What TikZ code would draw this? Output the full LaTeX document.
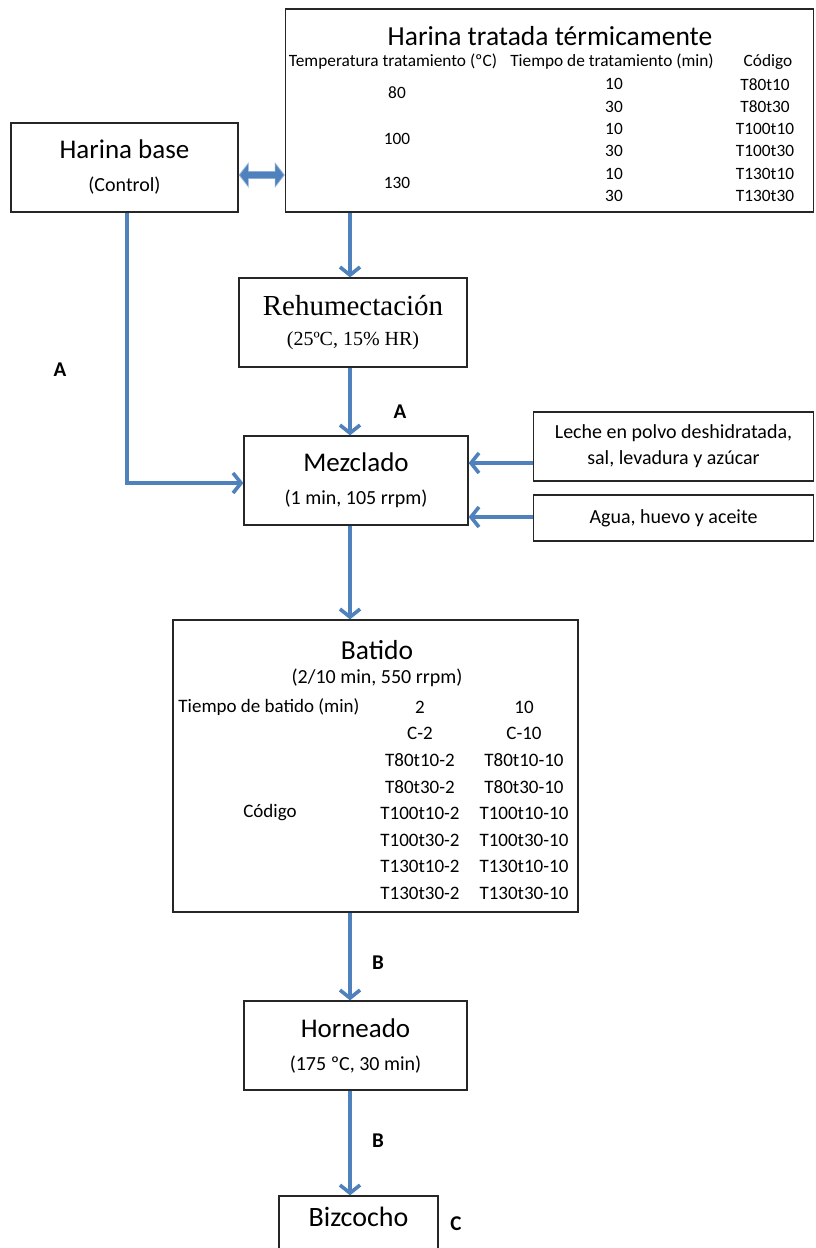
\documentclass[tikz,border=0pt]{standalone}
\usepackage{fontspec}
\setmainfont{Carlito}
\newfontfamily\camfont{Liberation Serif}
\usetikzlibrary{arrows.meta, calc}

\begin{document}
\begin{tikzpicture}[x=1pt, y=-1pt, >={Straight Barb[length=8pt, width=20pt]}, line width=1pt]
  % colores
  \definecolor{flowblue}{RGB}{79,129,189}
  \definecolor{flowlight}{RGB}{140,175,215}
  \tikzset{
    box/.style={draw=black!85, line width=1.3pt, fill=white, inner sep=0pt, align=center,
      font=\fontsize{20}{33}\selectfont},
    flow/.style={->, flowblue, line width=3.6pt},
    tag/.style={font=\bfseries\fontsize{21}{21}\selectfont},
    big/.style={font=\fontsize{27.5}{27.5}\selectfont},
    tab/.style={font=\fontsize{17.3}{17.3}\selectfont},
    btab/.style={font=\fontsize{19}{19}\selectfont},
  }
  \useasboundingbox (0,0) rectangle (815,1248);
  \clip (0,0) rectangle (815,1248);

  % cajas
  \node[box, minimum width=227, minimum height=89] (base) at (124.5,167.5)
    {{\fontsize{27}{27}\selectfont Harina base}\\ (Control)};
  \node[box, minimum width=528, minimum height=203] (trat) at (549.5,110.5) {};
  \node[box, minimum width=228, minimum height=89, font=\camfont\fontsize{20}{30}\selectfont] (rehum) at (353,322.5)
    {{\fontsize{29}{29}\selectfont Rehumectación}\\ (25ºC, 15\% HR)};
  \node[box, minimum width=224, minimum height=89] (mezcl) at (356,480.5)
    {{\fontsize{27}{27}\selectfont Mezclado}\\ (1 min, 105 rrpm)};
  \node[box, minimum width=280, minimum height=69, font=\fontsize{20}{26}\selectfont] (leche) at (673.5,446.5)
    {Leche en polvo deshidratada,\\ sal, levadura y azúcar};
  \node[box, minimum width=280, minimum height=46] (agua) at (673.5,518)
    {Agua, huevo y aceite};
  \node[box, minimum width=405, minimum height=292] (batido) at (375.5,766) {};
  \node[box, minimum width=223, minimum height=89] (horn) at (355.5,1045.5)
    {{\fontsize{27}{27}\selectfont Horneado}\\ (175 ºC, 30 min)};
  \node[box, minimum width=159, minimum height=64, text depth=22pt, font=\fontsize{28}{28}\selectfont] (bizc) at (358.5,1228)
    {Bizcocho};

  % tabla harina tratada
  \node[big] (tratT) at (550,36) {Harina tratada térmicamente};
  \node[tab] (h1) at (393,62) {Temperatura tratamiento (ºC)};
  \node[tab] (h2) at (612,62) {Tiempo de tratamiento (min)};
  \node[tab] (h3) at (768,62) {Código};
  \foreach \tt/\cod [count=\i] in {10/T80t10, 30/T80t30, 10/T100t10, 30/T100t30, 10/T130t10, 30/T130t30}
    \node[tab] (t\i) at (614,{62+22.3*\i}) {\tt}
      node[tab] (c\i) at (765,{62+22.3*\i}) {\cod};
  \foreach \temp/\yy in {80/93, 100/139, 130/183}
    \node[tab] (temp\temp) at (397,\yy) {\temp};

  % tabla batido
  \node[big] (batT) at (377,650) {Batido};
  \node[font=\fontsize{20}{20}\selectfont] (batS) at (377,678) {(2/10 min, 550 rrpm)};
  \node[btab] (b1) at (269,707) {Tiempo de batido (min)};
  \node[btab] (b2) at (420,707) {2};
  \node[btab] (b3) at (524,707) {10};
  \node[btab] (bcod) at (270,813) {Código};
  \foreach \cod [count=\i] in {C, T80t10, T80t30, T100t10, T100t30, T130t10, T130t30}
    \node[btab] (d\i) at (420,{707+26.6*\i}) {\cod-2}
      node[btab] (e\i) at (524,{707+26.6*\i}) {\cod-10};

  % flechas
  \coordinate (mzin) at ([yshift=-2.5]mezcl.west);
  \draw[flowlight, line width=8.5pt, {Triangle[length=10pt, width=25pt]}-{Triangle[length=10pt, width=25pt]}]
    ([yshift=-7.5]base.east) -- ([yshift=-7.5]base.east -| trat.west);
  \draw[flowblue, line width=6pt, {Triangle[length=8pt, width=21pt]}-{Triangle[length=8pt, width=21pt]}]
    ([xshift=1.5, yshift=-7.5]base.east) -- ([xshift=-1.5, yshift=-7.5]base.east -| trat.west);
  \draw[flow] ([xshift=-3]rehum.north |- trat.south) -- ([xshift=-3]rehum.north);
  \draw[flow] ([xshift=-3]rehum.south) -- ([xshift=-3]rehum.south |- mezcl.north);
  \draw[flow] ([xshift=2.5]base.south) -- ([xshift=2.5]base.south |- mzin) -- (mzin);
  \draw[flow] ([yshift=-16.5]leche.west) -- ([yshift=-16.5]leche.west -| mezcl.east);
  \draw[flow] ([yshift=1]agua.west) -- ([yshift=1]agua.west -| mezcl.east);
  \draw[flow] ([xshift=-6]mezcl.south) -- ([xshift=-6]mezcl.south |- batido.north);
  \draw[flow] ([xshift=-6]mezcl.south |- batido.south) -- ([xshift=-6]mezcl.south |- horn.north);
  \draw[flow] ([xshift=-6]mezcl.south |- horn.south) -- ([xshift=-6]mezcl.south |- bizc.north);

  % etiquetas
  \node[tag] (lA1) at (60,370) {A};
  \node[tag] (lA2) at (400,412) {A};
  \node[tag] (lB1) at (378,963) {B};
  \node[tag] (lB2) at (378,1141) {B};
  \node[tag] (lC) at (456,1224) {C};
\end{tikzpicture}
\end{document}
